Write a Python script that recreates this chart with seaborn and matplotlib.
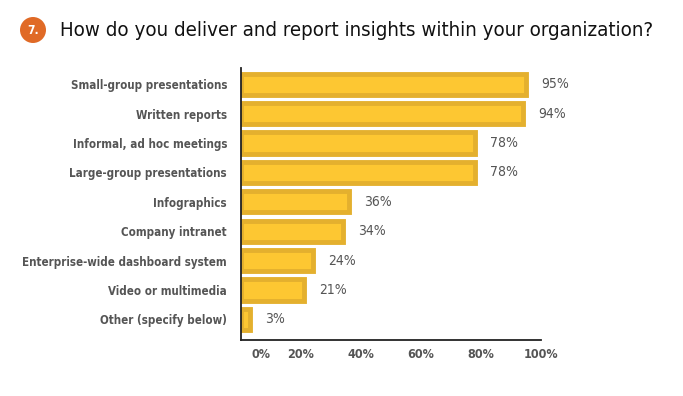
import pandas as pd
import numpy as np
import matplotlib.pyplot as plt
import matplotlib.transforms as mtransforms
from matplotlib.patches import Ellipse
import seaborn as sns

# data
categories = ["Small-group presentations", "Written reports", "Informal, ad hoc meetings",
              "Large-group presentations", "Infographics", "Company intranet",
              "Enterprise-wide dashboard system", "Video or multimedia", "Other (specify below)"]
values = [95, 94, 78, 78, 36, 34, 24, 21, 3]
tick_values = [0, 20, 40, 60, 80, 100]
tick_labels = ["0%", "20%", "40%", "60%", "80%", "100%"]

df = pd.DataFrame({"Method": categories, "Share": values})

sns.set_style("white")
plt.rcParams["font.family"] = ["DejaVu Sans"]
plt.rcParams["font.stretch"] = "condensed"

fig = plt.figure(figsize=(6.83, 3.96), dpi=100)
ax = fig.add_axes([241 / 683, 1 - 340 / 396, 300 / 683, 272 / 396])

sns.barplot(data=df, x="Share", y="Method", ax=ax, color="#FDC732",
            edgecolor="#E4B02E", linewidth=3.5, width=0.72, saturation=1)

for i, v in enumerate(values):
    ax.annotate(f"{v}%", xy=(v, i), xytext=(11, 0), textcoords="offset points",
                va="center", ha="left", fontsize=10, color="#555555")

ax.set_xlim(0, 100)
ax.set_ylim(len(categories) - 0.3, -0.55)
ax.set_xlabel("")
ax.set_ylabel("")
ax.set_xticks(tick_values)
ax.set_xticklabels(tick_labels, fontsize=9, fontweight="bold", color="#555555")
ax.tick_params(axis="x", direction="in", length=6, width=1.2, color="#222222", pad=6)
ax.tick_params(axis="y", length=0, pad=10)
for lab in ax.get_yticklabels():
    lab.set_fontsize(8.3)
    lab.set_fontweight("bold")
    lab.set_color("#555555")

# the 0% label sits right of the axis line in the original
zero_lab = ax.get_xticklabels()[0]
zero_lab.set_transform(zero_lab.get_transform() + mtransforms.ScaledTranslation(0.2, 0, fig.dpi_scale_trans))
ax.get_xticklines()[0].set_visible(False)

for s in ["top", "right"]:
    ax.spines[s].set_visible(False)
for s in ["left", "bottom"]:
    ax.spines[s].set_color("#222222")
    ax.spines[s].set_linewidth(1.3)

# title with numbered badge
fig.patches.append(Ellipse((33 / 683, 1 - 30 / 396), 26 / 683, 26 / 396, transform=fig.transFigure,
                           facecolor="#E06A26", edgecolor="none"))
fig.text(33 / 683, 1 - 30 / 396, "7.", ha="center", va="center", color="white",
         fontsize=8.5, fontweight="bold")
fig.text(60 / 683, 1 - 30 / 396, "How do you deliver and report insights within your organization?",
         ha="left", va="center", fontsize=14.7, color="#111111")

fig.savefig("out.png", dpi=100)
